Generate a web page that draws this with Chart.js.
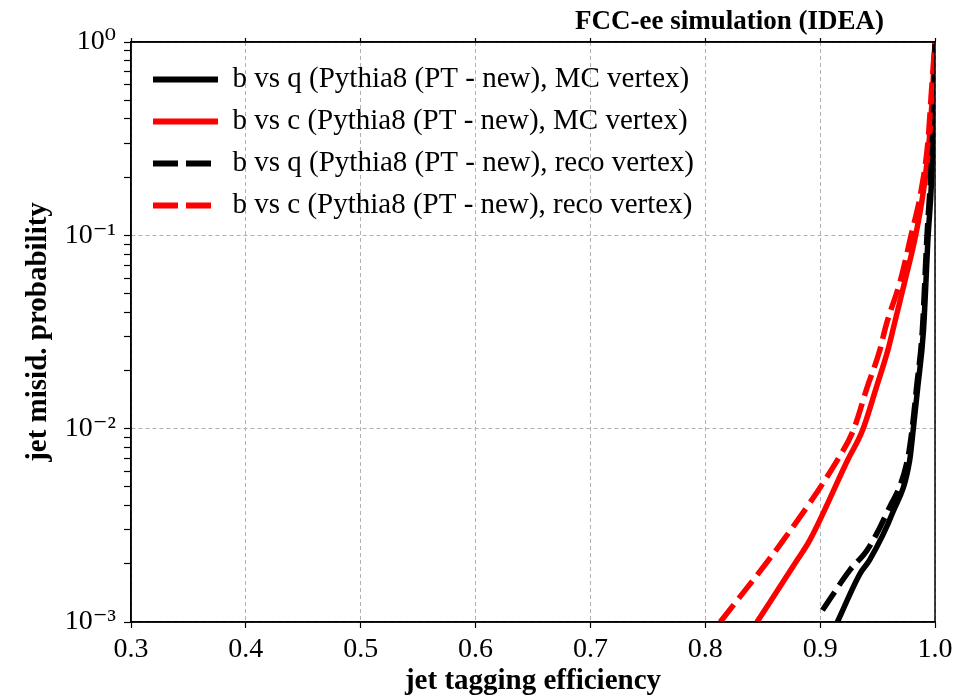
<!DOCTYPE html>
<html>
<head>
<meta charset="utf-8">
<script src="https://cdn.jsdelivr.net/npm/chart.js@4.4.1/dist/chart.umd.min.js"></script>
<style>
html, body { margin: 0; padding: 0; background: #fff; }
#wrap { width: 972px; height: 699px; }
</style>
</head>
<body>
<div id="wrap"><canvas id="rocChart" width="972" height="699"></canvas></div>
<script>
// values
const bqMcEff = [0.915, 0.935, 0.943, 0.963, 0.978, 0.981, 0.985, 0.990, 0.994, 0.997, 0.999, 1.0];
const bqMcMisid = [0.001, 0.00179, 0.00209, 0.00366, 0.00688, 0.00984, 0.0164, 0.0324, 0.099, 0.193, 0.50, 1.0];

const bcMcEff = [0.845, 0.880, 0.891, 0.924, 0.937, 0.949, 0.959, 0.964, 0.974, 0.983, 0.990, 0.995, 0.998, 1.0];
const bcMcMisid = [0.001, 0.00209, 0.00265, 0.00688, 0.00984, 0.0164, 0.0255, 0.0336, 0.0587, 0.099, 0.171, 0.311, 0.565, 1.0];

const bqRecoEff = [0.902, 0.926, 0.941, 0.958, 0.976, 0.980, 0.984, 0.989, 0.993, 0.996, 0.999, 1.0];
const bqRecoMisid = [0.00115, 0.00186, 0.00236, 0.00366, 0.00688, 0.00984, 0.0164, 0.0324, 0.099, 0.193, 0.50, 1.0];

const bcRecoEff = [0.813, 0.868, 0.915, 0.929, 0.941, 0.952, 0.957, 0.970, 0.979, 0.988, 0.994, 0.997, 1.0];
const bcRecoMisid = [0.001, 0.00265, 0.00688, 0.00984, 0.0164, 0.0255, 0.0336, 0.0587, 0.099, 0.171, 0.311, 0.565, 1.0];

const seriesLabels = [
    "b vs q (Pythia8 (PT - new), MC vertex)",
    "b vs c (Pythia8 (PT - new), MC vertex)",
    "b vs q (Pythia8 (PT - new), reco vertex)",
    "b vs c (Pythia8 (PT - new), reco vertex)"
];

const xTickValues = [0.3, 0.4, 0.5, 0.6, 0.7, 0.8, 0.9, 1.0];
const yDecades = [0.001, 0.01, 0.1, 1];
const yDecadeLabels = ["10\u207B\u00B3", "10\u207B\u00B2", "10\u207B\u00B9", "10\u2070"];

const plotTitle = "FCC-ee simulation (IDEA)";
const xTitle = "jet tagging efficiency";
const yTitle = "jet misid. probability";

const SERIF = "'Liberation Serif', 'DejaVu Serif', serif";
Chart.defaults.font.family = SERIF;
Chart.defaults.color = "#000";

const DASH = [22, 8];

function toPoints(xs, ys) {
    return xs.map((x, i) => ({ x: x, y: ys[i] }));
}

function xTicks(scale) {
    scale.ticks = xTickValues.map(v => ({ value: v }));
}

function decadeIndex(value) {
    return yDecades.findIndex(d => Math.abs(Math.log10(value) - Math.log10(d)) < 1e-6);
}

// frame on all four sides
const framePlugin = {
    id: "frame",
    afterDraw(chart) {
        const a = chart.chartArea;
        const ctx = chart.ctx;
        ctx.save();
        ctx.strokeStyle = "#000";
        ctx.lineWidth = 1.5;
        ctx.setLineDash([]);
        ctx.strokeRect(a.left, a.top, a.right - a.left, a.bottom - a.top);
        ctx.restore();
    }
};

// move the legend box to the upper left corner inside the axes
const legendPlacePlugin = {
    id: "legendPlace",
    afterLayout(chart) {
        const lg = chart.legend;
        if (!lg) return;
        const dx = chart.chartArea.left + 9 - lg.left;
        const dy = chart.chartArea.top + 10 - lg.top;
        lg.left += dx; lg.right += dx;
        lg.top += dy; lg.bottom += dy;
    }
};

// title sits above the plot, right of centre
const titlePlugin = {
    id: "topTitle",
    afterDraw(chart) {
        const ctx = chart.ctx;
        ctx.save();
        ctx.font = "bold 27px " + SERIF;
        ctx.fillStyle = "#000";
        ctx.textAlign = "right";
        ctx.textBaseline = "alphabetic";
        ctx.fillText(plotTitle, 884, 29);
        ctx.restore();
    }
};

const datasets = [
    { label: seriesLabels[0], data: toPoints(bqMcEff, bqMcMisid), borderColor: "#000", borderDash: [], order: 4 },
    { label: seriesLabels[1], data: toPoints(bcMcEff, bcMcMisid), borderColor: "#ff0000", borderDash: [], order: 3 },
    { label: seriesLabels[2], data: toPoints(bqRecoEff, bqRecoMisid), borderColor: "#000", borderDash: DASH, order: 2 },
    { label: seriesLabels[3], data: toPoints(bcRecoEff, bcRecoMisid), borderColor: "#ff0000", borderDash: DASH, order: 1 }
].map(ds => Object.assign(ds, {
    backgroundColor: ds.borderColor,
    borderWidth: 5.5,
    pointRadius: 0,
    pointHoverRadius: 0,
    fill: false,
    cubicInterpolationMode: "monotone"
}));

const chart = new Chart(document.getElementById("rocChart"), {
    type: "line",
    data: { datasets: datasets },
    options: {
        responsive: false,
        animation: false,
        layout: { padding: { left: 0, right: 37, top: 0, bottom: 0 } },
        plugins: {
            tooltip: { enabled: false },
            legend: {
                position: "chartArea",
                align: "start",
                labels: {
                    usePointStyle: true,
                    pointStyle: "line",
                    pointStyleWidth: 65,
                    padding: 13,
                    font: { size: 29, family: SERIF },
                    color: "#000",
                    sort: (a, b) => a.datasetIndex - b.datasetIndex,
                    generateLabels: ch => {
                        const items = Chart.defaults.plugins.legend.labels.generateLabels(ch);
                        items.forEach(it => {
                            const ds = ch.data.datasets[it.datasetIndex];
                            it.lineWidth = 6;
                            it.strokeStyle = ds.borderColor;
                            it.fillStyle = ds.borderColor;
                            it.lineDash = ds.borderDash.length ? [25, 8] : [];
                            it.pointStyle = "line";
                        });
                        return items;
                    }
                }
            }
        },
        scales: {
            x: {
                type: "linear",
                position: "bottom",
                min: 0.3,
                max: 1.0,
                afterBuildTicks: xTicks,
                afterFit: s => { s.height = 77; },
                ticks: {
                    font: { size: 28 },
                    color: "#000",
                    padding: 5,
                    autoSkip: false,
                    maxRotation: 0,
                    callback: v => Number(v).toFixed(1)
                },
                grid: {
                    color: "#b0b0b0",
                    lineWidth: 1,
                    borderDash: [4, 3],
                    tickColor: "#000",
                    tickLength: 6,
                    tickWidth: 1.2
                },
                border: { color: "#000", width: 1.5, dash: [4, 3] },
                title: {
                    display: true,
                    text: xTitle,
                    font: { size: 29, weight: "bold" },
                    color: "#000",
                    padding: { top: 0, bottom: 0 }
                }
            },
            x2: {
                type: "linear",
                position: "top",
                min: 0.3,
                max: 1.0,
                afterBuildTicks: xTicks,
                afterFit: s => { s.height = 42; },
                ticks: { display: false },
                grid: { drawOnChartArea: false, tickColor: "#000", tickLength: 4, tickWidth: 1.2 },
                border: { color: "#000", width: 1.5 }
            },
            y: {
                type: "logarithmic",
                position: "left",
                min: 0.001,
                max: 1,
                afterBuildTicks: scale => {
                    const ticks = [];
                    yDecades.forEach((d, i) => {
                        ticks.push({ value: d, major: true });
                        if (i < yDecades.length - 1) {
                            for (let m = 2; m <= 9; m++) ticks.push({ value: d * m, major: false });
                        }
                    });
                    scale.ticks = ticks;
                },
                afterFit: s => { s.width = 131; },
                ticks: {
                    font: { size: 28 },
                    color: "#000",
                    padding: 8,
                    autoSkip: false,
                    callback: v => {
                        const i = decadeIndex(v);
                        return i >= 0 ? yDecadeLabels[i] : "";
                    }
                },
                grid: {
                    color: ctx => (ctx.tick && decadeIndex(ctx.tick.value) >= 0) ? "#b0b0b0" : "rgba(0,0,0,0)",
                    lineWidth: 1,
                    borderDash: [4, 3],
                    tickColor: "#000",
                    tickLength: 7,
                    tickWidth: 1.2
                },
                border: { color: "#000", width: 1.5, dash: [4, 3] },
                title: {
                    display: true,
                    text: yTitle,
                    font: { size: 29, weight: "bold" },
                    color: "#000",
                    padding: { top: 21, bottom: 0 }
                }
            }
        }
    },
    plugins: [legendPlacePlugin, framePlugin, titlePlugin]
});
</script>
</body>
</html>
